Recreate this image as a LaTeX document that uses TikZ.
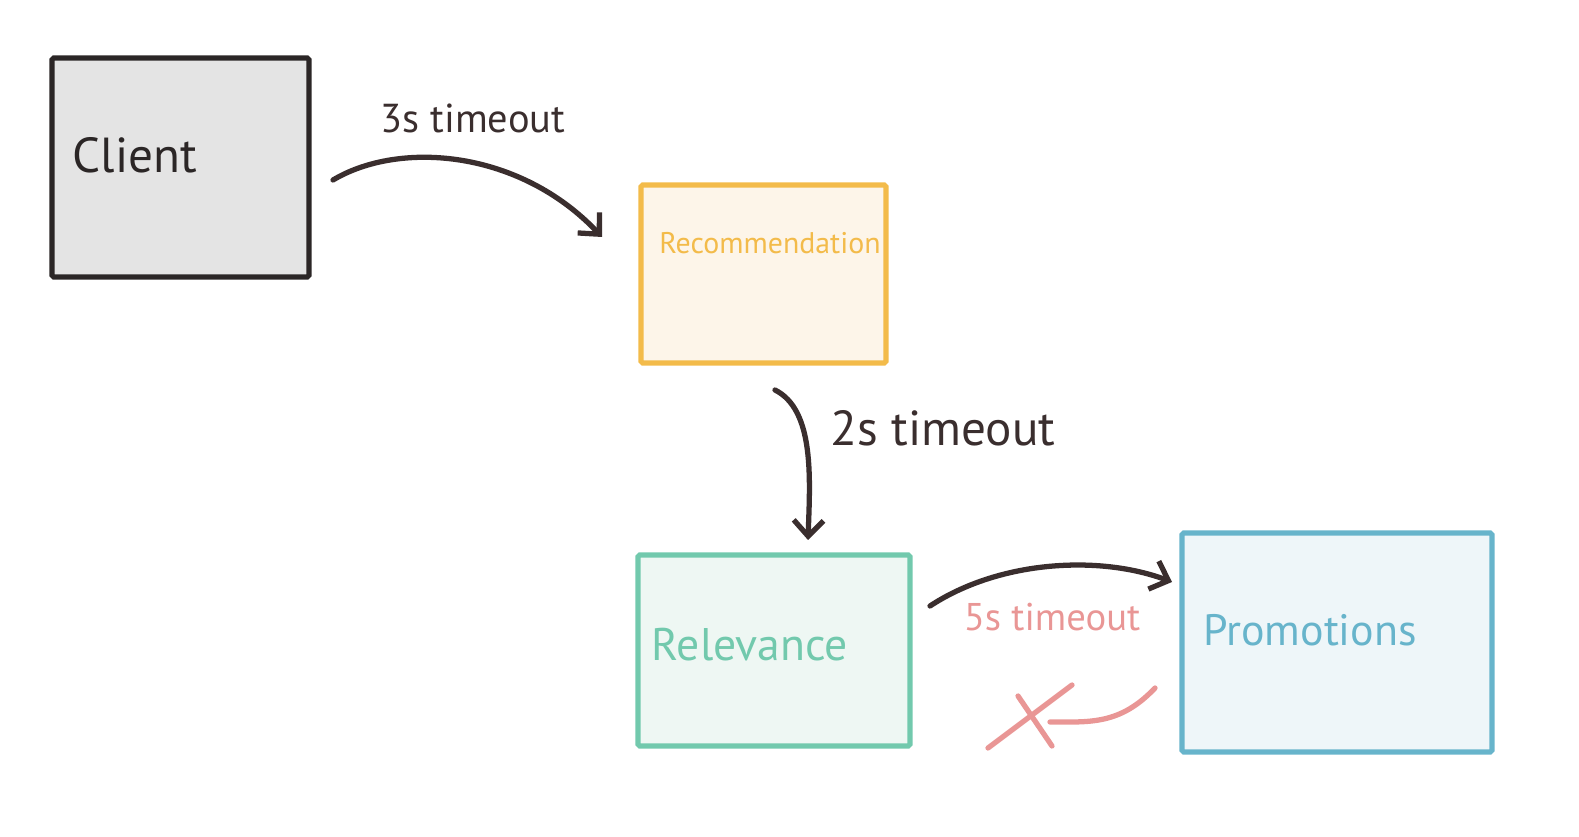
\documentclass[tikz,border=0pt]{standalone}
\usepackage{fontspec}
\setmainfont{PT Sans}
\usetikzlibrary{arrows.meta}
\definecolor{inkDark}{HTML}{3A2E2E}
\definecolor{inkPink}{HTML}{E99695}
\definecolor{clientLine}{HTML}{2B2626}
\definecolor{clientFill}{HTML}{E4E4E4}
\definecolor{recLine}{HTML}{F3BB4A}
\definecolor{recFill}{HTML}{FDF5E9}
\definecolor{relLine}{HTML}{72C9AD}
\definecolor{relFill}{HTML}{EEF7F3}
\definecolor{promoLine}{HTML}{67B4CB}
\definecolor{promoFill}{HTML}{EEF6F9}
\begin{document}
\begin{tikzpicture}
[x=0.02cm,y=-0.02cm,%
  boxDecorate/.style={shape=rectangle,line width=3pt,rounded corners=1pt,inner sep=0pt},%
  arrowDecorate/.style={line width=3pt,line cap=round,inkDark,-{Straight Barb[length=9pt,width=17pt,line width=3pt]}},%
  labelDecorate/.style={inner sep=0pt,font=\fontsize{#1}{#1}\selectfont}]
\useasboundingbox (0,0) rectangle (1579,837);
%% boxes
\foreach \nodename/\x/\y/\w/\h/\col in {
  client/180.5/167.5/257/219/client, recommendation/763.5/274/245/178/rec,
  relevance/774/650.5/272/191/rel, promotions/1337/642.5/310/219/promo}
{
  \node (\nodename) at (\x,\y) [boxDecorate,draw=\col Line,fill=\col Fill,
    minimum width=\w*0.02cm,minimum height=\h*0.02cm] {};
}
%% box texts
\node (clientText) at (135,155) [labelDecorate=28,clientLine] {Client};
\node (recText) at (770,243) [labelDecorate=17,recLine] {Recommendation};
\node (relText) at (750,645) [labelDecorate=26,relLine] {Relevance};
\node (promoText) at (1310,630) [labelDecorate=25,promoLine] {Promotions};
%% arrow texts
\node (timeA) at (473,118) [labelDecorate=23,inkDark] {3s timeout};
\node (timeB) at (943,428) [labelDecorate=28,inkDark] {2s timeout};
\node (timeC) at (1052,617) [labelDecorate=22,inkPink] {5s timeout};
%% arrow ends
\coordinate (a1) at (333,180);
\coordinate (a2) at (602,237);
\coordinate (b1) at (775,390);
\coordinate (b2) at (808,540);
\coordinate (c1) at (930,606);
\coordinate (c2) at (1172,582);
\coordinate (d1) at (1155,688);
\coordinate (d2) at (1050,722);
%% arrows
\draw[arrowDecorate] (a1) .. controls (400,140) and (520,150) .. (a2);
\draw[arrowDecorate] (b1) .. controls (815,410) and (810,480) .. (b2);
\draw[arrowDecorate] (c1) .. controls (1000,560) and (1100,555) .. (c2);
%% lost reply
\draw[line width=3pt,line cap=round,inkPink] (d1) .. controls (1120,725) and (1090,722) .. (d2);
\draw[line width=3pt,line cap=round,inkPink] (1072,685) -- (988,748);
\draw[line width=3pt,line cap=round,inkPink] (1018,696) -- (1052,746);
\end{tikzpicture}
\end{document}
